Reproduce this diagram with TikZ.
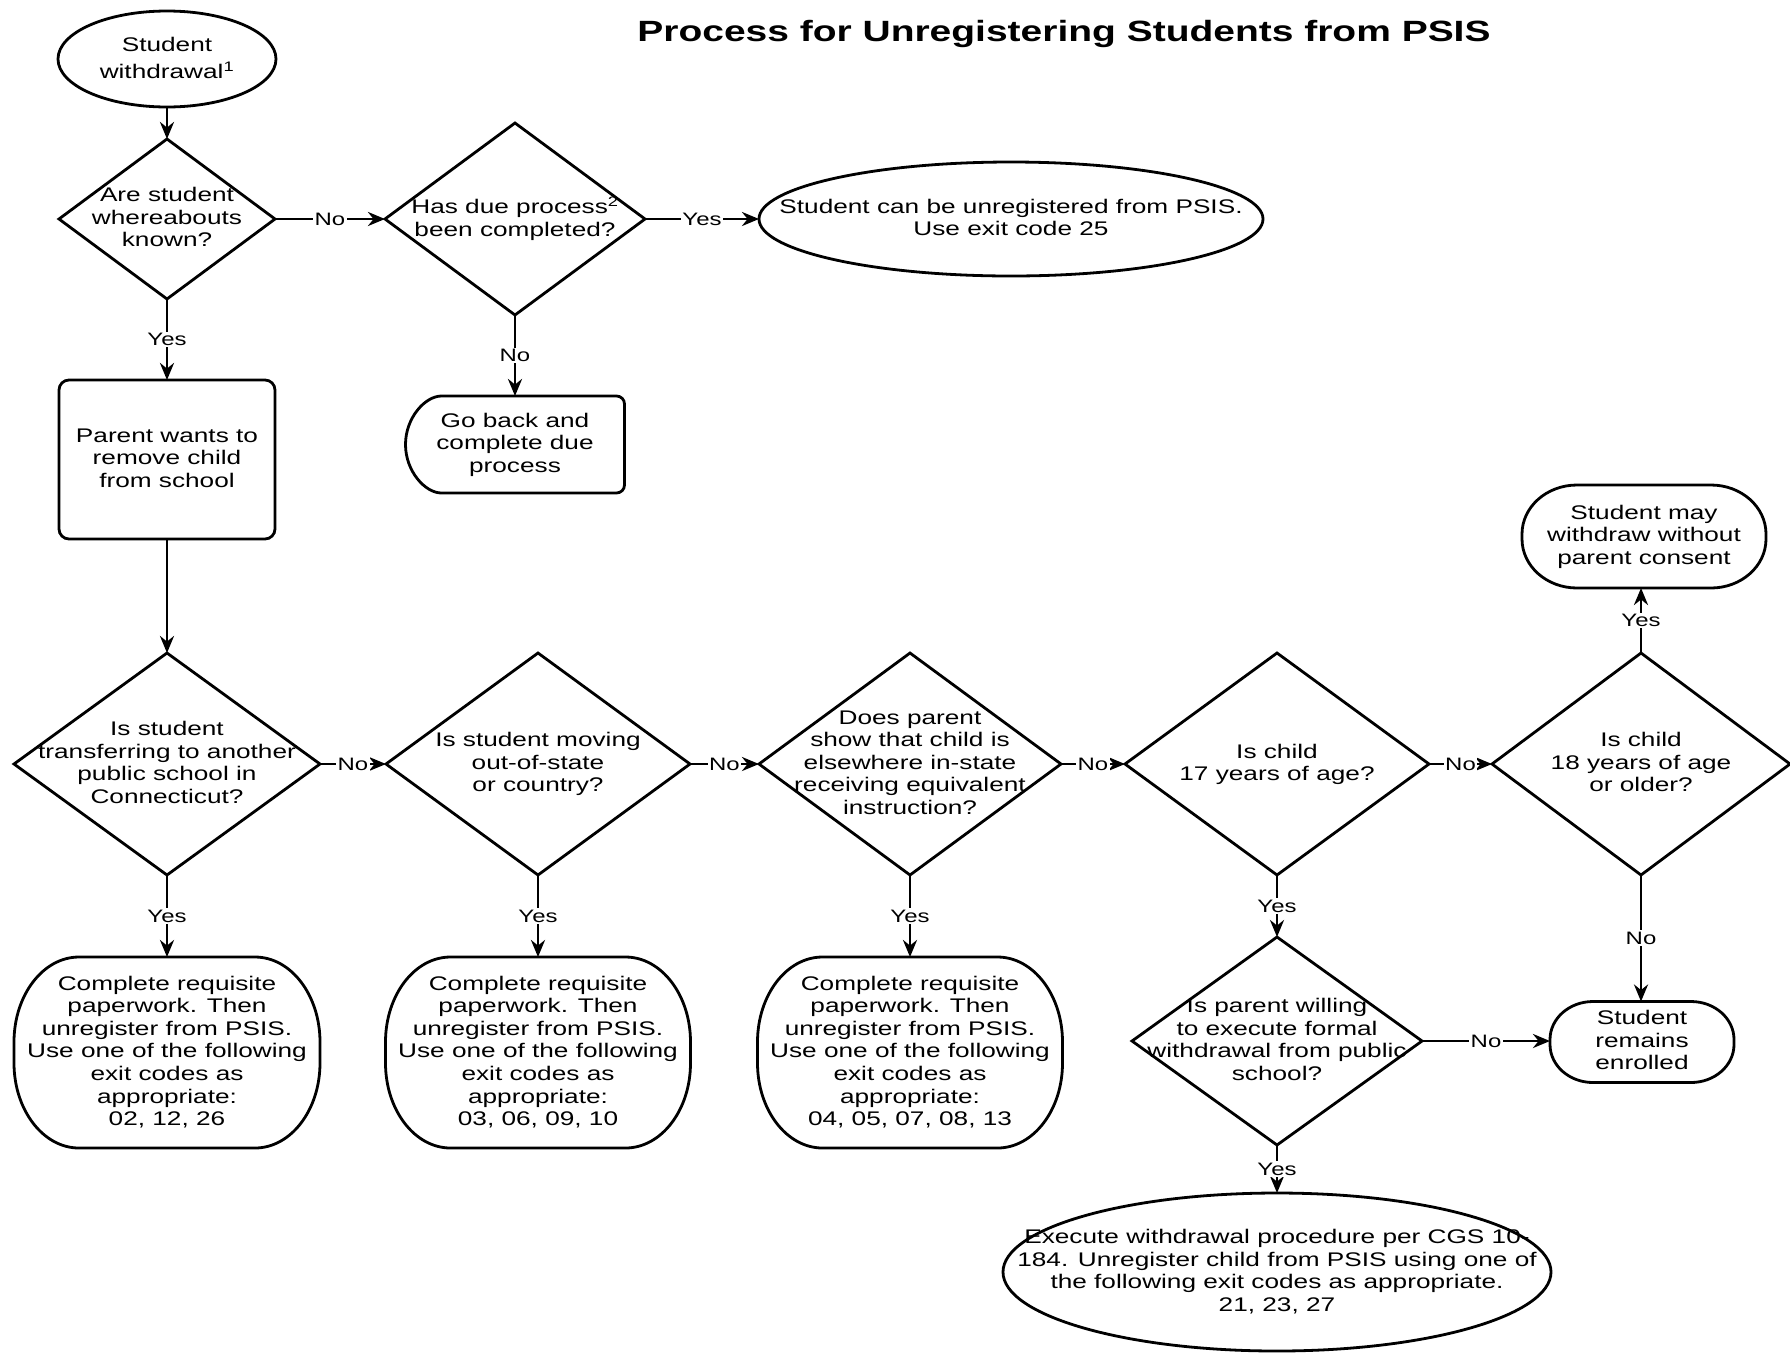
\documentclass[tikz,border=0pt]{standalone}
\usepackage{fontspec}
\setmainfont{Liberation Sans}[FakeStretch=1.33]
\usetikzlibrary{shapes.geometric,arrows.meta}
\newcommand\zt[1]{\makebox[0pt]{\raisebox{-6pt}[0pt][0pt]{\begin{tabular}{@{}c@{}}#1\end{tabular}}}}
\newcommand\ovbox[3]{\draw ([xshift=#2]#1.north west) -- ([xshift=-#2]#1.north east) arc[start angle=90,end angle=0,x radius=#2,y radius=#3] -- ([yshift=#3]#1.south east) arc[start angle=0,end angle=-90,x radius=#2,y radius=#3] -- ([xshift=#2]#1.south west) arc[start angle=270,end angle=180,x radius=#2,y radius=#3] -- ([yshift=-#3]#1.north west) arc[start angle=180,end angle=90,x radius=#2,y radius=#3] -- cycle;}
\begin{document}
\begin{tikzpicture}[x=1pt,y=1pt,line width=2.8pt,
  txt/.style={font=\fontsize{19.7}{22.6}\selectfont, inner sep=0pt, outer sep=0pt},
  dia/.style={txt, draw, diamond},
  ell/.style={txt, draw, ellipse},
  box/.style={txt, rectangle},
  arr/.style={-{Stealth[length=17pt,width=14pt]}},
  lbl/.style={font=\fontsize{18}{20}\selectfont, fill=white, inner sep=1.5pt}]
\fill[white] (0,0) rectangle (1790,-1353);
\useasboundingbox (0,0) rectangle (1790,-1353);

\node[font=\fontsize{29.3}{34}\selectfont\bfseries] (title) at (1064,-34) {Process for Unregistering Students from PSIS};

\node[ell, minimum width=218, minimum height=96, font=\fontsize{19.7}{27}\selectfont] (start) at (167,-59) {\zt{Student\\withdrawal\textsuperscript{1}}};
\node[dia, minimum width=216, minimum height=160] (d1) at (167,-219) {\zt{Are student\\whereabouts\\known?}};
\node[dia, minimum width=260, minimum height=192] (d2) at (515,-219) {\zt{Has due process\textsuperscript{2}\\been completed?}};
\node[ell, minimum width=504, minimum height=114] (e25) at (1011,-219) {\zt{Student can be unregistered from PSIS.\\Use exit code 25}};
\node[box, draw, rounded corners=10pt, minimum width=216, minimum height=159] (rect) at (167,-459.5) {\zt{Parent wants to\\remove child\\from school}};
\node[box, minimum width=219, minimum height=97] (goback) at (515,-444.5) {\zt{Go back and\\complete due\\process}};
\draw[rounded corners=8pt] ([xshift=44pt]goback.south west) arc[start angle=270,end angle=90,x radius=44pt,y radius=48.5pt] -- (goback.north east) -- (goback.south east) -- cycle;

\node[dia, minimum width=306, minimum height=222] (d3) at (167,-764) {\zt{Is student\\transferring to another\\public school in\\Connecticut?}};
\node[dia, minimum width=304, minimum height=222] (d4) at (538,-764) {\zt{Is student moving\\out-of-state\\or country?}};
\node[dia, minimum width=302, minimum height=222] (d5) at (910,-764) {\zt{Does parent\\show that child is\\elsewhere in-state\\receiving equivalent\\instruction?}};
\node[dia, minimum width=304, minimum height=222] (d6) at (1277,-764) {\zt{Is child\\17 years of age?}};
\node[dia, minimum width=298, minimum height=222] (d7) at (1641,-764) {\zt{Is child\\18 years of age\\or older?}};

\node[box, minimum width=306, minimum height=191] (r1) at (167,-1052.5) {\zt{Complete requisite\\paperwork. Then\\unregister from PSIS.\\Use one of the following\\exit codes as\\appropriate:\\02, 12, 26}};
\node[box, minimum width=305, minimum height=191] (r2) at (538,-1052.5) {\zt{Complete requisite\\paperwork. Then\\unregister from PSIS.\\Use one of the following\\exit codes as\\appropriate:\\03, 06, 09, 10}};
\node[box, minimum width=305, minimum height=191] (r3) at (910,-1052.5) {\zt{Complete requisite\\paperwork. Then\\unregister from PSIS.\\Use one of the following\\exit codes as\\appropriate:\\04, 05, 07, 08, 13}};
\ovbox{r1}{65pt}{85pt}
\ovbox{r2}{65pt}{85pt}
\ovbox{r3}{65pt}{85pt}

\node[dia, minimum width=290, minimum height=208] (d8) at (1277,-1041) {\zt{Is parent willing\\to execute formal\\withdrawal from public\\school?}};
\node[box, minimum width=184, minimum height=81] (enr) at (1642,-1042) {\zt{Student\\remains\\enrolled}};
\ovbox{enr}{43pt}{38pt}
\node[box, minimum width=244, minimum height=103] (wd) at (1644,-536.5) {\zt{Student may\\withdraw without\\parent consent}};
\ovbox{wd}{55pt}{49pt}
\node[ell, minimum width=548, minimum height=158] (e3) at (1277,-1272) {\zt{Execute withdrawal procedure per CGS 10-\\184. Unregister child from PSIS using one of\\the following exit codes as appropriate.\\21, 23, 27}};

\draw[arr] (start) -- (d1);
\draw[arr] (d1) -- node[lbl]{No} (d2);
\draw[arr] (d2) -- node[lbl]{Yes} (e25);
\draw[arr] (d1) -- node[lbl]{Yes} (rect);
\draw[arr] (d2) -- node[lbl]{No} (goback);
\draw[arr] (rect) -- (d3);
\draw[arr] (d3) -- node[lbl]{No} (d4);
\draw[arr] (d4) -- node[lbl]{No} (d5);
\draw[arr] (d5) -- node[lbl]{No} (d6);
\draw[arr] (d6) -- node[lbl]{No} (d7);
\draw[arr] (d3) -- node[lbl]{Yes} (r1);
\draw[arr] (d4) -- node[lbl]{Yes} (r2);
\draw[arr] (d5) -- node[lbl]{Yes} (r3);
\draw[arr] (d6) -- node[lbl]{Yes} (d8);
\draw[arr] (d8) -- node[lbl]{No} (d8 -| enr.west);
\draw[arr] (d7) -- node[lbl]{No} (d7 |- enr.north);
\draw[arr] (d7) -- node[lbl]{Yes} (d7 |- wd.south);
\draw[arr] (d8) -- node[lbl]{Yes} (e3);
\end{tikzpicture}
\end{document}
